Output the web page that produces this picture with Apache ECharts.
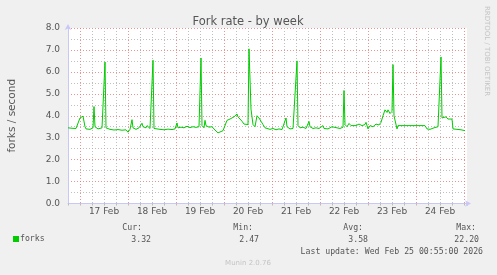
<!DOCTYPE html>
<html><head><meta charset="utf-8">
<script src="https://cdn.jsdelivr.net/npm/echarts@6/dist/echarts.min.js"></script>
<style>html,body{margin:0;padding:0;background:#f0f0f0;}#c{width:497px;height:275px;}</style>
</head><body><div id="c"></div>
<script>
// hours relative to 17 Feb 00:00
const hours = [-6,-5,-4,-3,-2,-1,0,0.5,1.5,2.5,3,4,5,6,6.5,7,7.5,8,8.5,9,10,11,12,12.5,13,13.5,15,17,19,21,23,24,25,26,26.5,28,29.5,31,31.5,33,33.5,35,36,36.5,37,38,40,42,44,46,47.5,48.5,49,50.5,52,53.5,55,56.5,58,59.5,60.5,61,62,62.5,63,64.5,66,67.5,69,70,71.5,72.5,73.5,74,75,76,77,78,78.5,79,80,81,82,83,84,84.5,85.5,86.5,87.5,88.5,89.5,90.5,91.5,92.5,93.5,95,96.5,98,99.5,101,102,103,103.5,105,106.5,107.5,108.5,109,110,111.5,113,114,114.5,115,116.5,118,119.5,121.5,122,124,126,126.5,128.5,130,131.5,132,132.5,133.5,134.5,135.5,136.5,138,139.5,141,142.5,143,144,145,146.5,148,149.5,150.5,151.5,152.5,153.5,154,155,156,156.5,157,158.5,159,162,166,170,172.5,173,173.5,174.5,175,176,177,178,179,180,180.5,181,182,183,184,185,186,186.5,187.5,188.5,189.5,190.5,191.5,192.5];
const forks = [3.45,3.40,3.43,3.38,3.42,3.50,3.90,3.97,3.98,3.50,3.40,3.45,3.38,3.42,3.45,4.42,3.50,3.42,3.55,3.40,3.38,3.45,3.40,6.45,3.45,3.36,3.38,3.35,3.37,3.34,3.36,3.25,3.38,3.82,3.45,3.38,3.45,3.66,3.50,3.45,3.55,3.42,3.45,6.53,3.42,3.38,3.38,3.36,3.39,3.37,3.40,3.67,3.45,3.48,3.45,3.52,3.46,3.50,3.47,3.50,6.63,3.55,3.45,3.79,3.55,3.48,3.50,3.35,3.22,3.30,3.32,3.40,3.79,3.70,3.85,3.78,3.95,3.92,4.08,3.95,3.85,3.75,3.62,3.70,3.60,7.05,4.30,3.60,3.50,4.00,3.90,3.75,3.60,3.45,3.40,3.38,3.42,3.36,3.40,3.37,3.45,3.90,3.50,3.40,3.42,3.45,6.50,3.55,3.45,3.48,3.42,3.45,3.74,3.50,3.42,3.45,3.42,3.55,3.42,3.40,3.50,3.42,3.45,3.42,3.48,5.15,3.60,3.50,3.65,3.55,3.62,3.55,3.62,3.55,3.60,3.70,3.40,3.55,3.50,3.62,3.58,3.70,4.00,4.27,4.15,4.27,4.10,4.20,6.33,4.00,3.40,3.55,3.55,3.55,3.55,3.55,3.62,3.40,3.33,3.38,3.35,3.45,3.40,3.50,3.45,6.68,3.90,3.85,3.95,3.85,3.88,3.85,3.40,3.32,3.38,3.30,3.36,3.33,3.32];
const dayLabels = ['17 Feb','18 Feb','19 Feb','20 Feb','21 Feb','22 Feb','23 Feb','24 Feb'];
const seriesName = 'forks';
const statNames = ['Cur:','Min:','Avg:','Max:'];
const statValues = ['3.32','2.47','3.58','22.20'];
const titleText = 'Fork rate - by week';
const yName = 'forks / second';
const lastUpdate = 'Last update: Wed Feb 25 00:55:00 2026';
const footer = 'Munin 2.0.76';
const watermark = 'RRDTOOL / TOBI OETIKER';

const RED = 'rgba(230,110,110,0.75)';
const GREY = 'rgba(175,175,175,0.8)';
const AXIS = '#c8c8f8';
const TXT = '#555';
const SANS = 'DejaVu Sans';
const MONO = 'DejaVu Sans Mono';

const statHeadX = [142, 253, 363, 476];
const statValX = [151, 259, 368, 479];

const graphic = [
  {type:'text', x:248, y:22.5, style:{text:titleText, font:'11.5px "'+SANS+'"', fill:TXT, textAlign:'center', textVerticalAlign:'middle'}},
  {type:'text', x:487, y:51, rotation:-Math.PI/2, style:{text:watermark, font:'7px "'+SANS+'"', fill:'#c4c4c4', textAlign:'center', textVerticalAlign:'middle'}},
  {type:'text', x:483, y:251.8, style:{text:lastUpdate, font:'8.2px "'+MONO+'"', fill:TXT, textAlign:'right', textVerticalAlign:'middle'}},
  {type:'text', x:248, y:263.2, style:{text:footer, font:'7px "'+SANS+'"', fill:'#c4c4c4', textAlign:'center', textVerticalAlign:'middle'}}
];
statNames.forEach((n,i)=>{
  graphic.push({type:'text', x:statHeadX[i], y:227.5, style:{text:n, font:'8.2px "'+MONO+'"', fill:TXT, textAlign:'right', textVerticalAlign:'middle'}});
  graphic.push({type:'text', x:statValX[i], y:240, style:{text:statValues[i], font:'8.2px "'+MONO+'"', fill:TXT, textAlign:'right', textVerticalAlign:'middle'}});
});

const chart = echarts.init(document.getElementById('c'), null, {renderer:'canvas'});
chart.setOption({
  backgroundColor:'#f0f0f0',
  animation:false,
  grid:{left:68, right:30, top:28, bottom:71.5, show:true, backgroundColor:'#ffffff', borderWidth:0, containLabel:false, outerBoundsMode:'none'},
  legend:{data:[{name:seriesName, icon:'rect'}], left:13, top:235, itemWidth:6, itemHeight:6, padding:0,
    textStyle:{fontFamily:MONO, fontSize:8.2, color:TXT, padding:[0,0,0,-4]}},
  xAxis:{type:'value', min:-6, max:193.5, interval:6,
    axisLine:{show:true, onZero:false, lineStyle:{color:AXIS, width:1}, symbol:['none','arrow'], symbolSize:[5,6], symbolOffset:[0,4]},
    axisTick:{show:true, length:2, lineStyle:{color:'#bbb'}},
    axisLabel:{fontFamily:SANS, fontSize:9, color:TXT, margin:4, hideOverlap:false,
      formatter:function(v){ const m=((v%24)+24)%24; if (Math.abs(m-12)<1e-6){ const d=Math.floor(v/24); return dayLabels[d]||''; } return ''; }},
    splitLine:{show:true, showMaxLine:false, lineStyle:{color:[GREY, RED, GREY, GREY], type:[1,2], width:1}}
  },
  yAxis:{type:'value', min:0, max:8, interval:1,
    name:yName, nameLocation:'middle', nameGap:50, nameTextStyle:{fontFamily:SANS, fontSize:10.5, color:TXT},
    axisLine:{show:true, onZero:false, lineStyle:{color:AXIS, width:1}, symbol:['none','arrow'], symbolSize:[5,6], symbolOffset:[0,4]},
    axisTick:{show:false},
    axisLabel:{fontFamily:SANS, fontSize:9, color:TXT, margin:8, formatter:function(v){return v.toFixed(1);}},
    splitLine:{show:true, lineStyle:{color:RED, type:[1,2], width:1}},
    minorTick:{show:false, splitNumber:2},
    minorSplitLine:{show:true, lineStyle:{color:GREY, type:[1,2], width:1}}
  },
  series:[{name:seriesName, type:'line', data:hours.map((h,i)=>[h,forks[i]]), showSymbol:false, symbol:'none',
    lineStyle:{color:'#00cc00', width:1}, itemStyle:{color:'#00cc00'}}],
  graphic:graphic
});
</script></body></html>
